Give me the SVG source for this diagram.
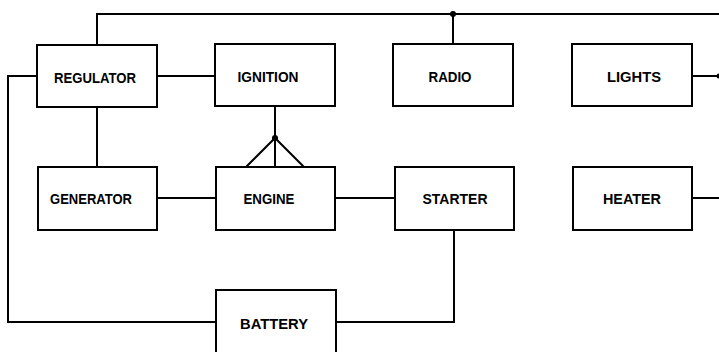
<svg xmlns="http://www.w3.org/2000/svg" width="719" height="352" viewBox="0 0 719 352">
<style>
.box{fill:#fff;stroke:#000;stroke-width:2}
.w{fill:none;stroke:#000;stroke-width:2;stroke-linejoin:miter}
text{font-family:"Liberation Sans",Arial,sans-serif;font-weight:bold;font-size:15px;fill:#000;text-anchor:middle}
</style>
<rect width="719" height="352" fill="#fff"/>
<g id="connectors">
<path class="w" d="M97,45 V14 H719"/>
<path class="w" d="M453,14 V44"/>
<circle cx="453" cy="14" r="3" fill="#000"/>
<path class="w" d="M157,76 H215"/>
<path class="w" d="M37,76 H8 V322 H216"/>
<path class="w" d="M336,322 H454 V230"/>
<path class="w" d="M97,107 V167"/>
<path class="w" d="M157,198 H216"/>
<path class="w" d="M335,198 H395"/>
<path class="w" d="M275,106 V167"/>
<path class="w" d="M246,167 L275,138 L304,167"/>
<circle cx="275" cy="138" r="3" fill="#000"/>
<path class="w" d="M692,76 H719"/>
<circle cx="719" cy="76" r="2.5" fill="#000"/>
<path class="w" d="M692,198 H719"/>
</g>
<g id="regulator"><rect class="box" x="37" y="45" width="120" height="62"/><text x="95" y="83" textLength="82" lengthAdjust="spacingAndGlyphs">REGULATOR</text></g>
<g id="ignition"><rect class="box" x="215" y="44" width="120" height="62"/><text x="268" y="82" textLength="61" lengthAdjust="spacingAndGlyphs">IGNITION</text></g>
<g id="radio"><rect class="box" x="393" y="44" width="120" height="62"/><text x="450" y="82" textLength="43" lengthAdjust="spacingAndGlyphs">RADIO</text></g>
<g id="lights"><rect class="box" x="572" y="44" width="120" height="62"/><text x="634" y="82" textLength="54" lengthAdjust="spacingAndGlyphs">LIGHTS</text></g>
<g id="generator"><rect class="box" x="38" y="167" width="119" height="63"/><text x="91" y="204" textLength="82" lengthAdjust="spacingAndGlyphs">GENERATOR</text></g>
<g id="engine"><rect class="box" x="216" y="167" width="119" height="63"/><text x="269" y="204" textLength="51" lengthAdjust="spacingAndGlyphs">ENGINE</text></g>
<g id="starter"><rect class="box" x="395" y="167" width="119" height="63"/><text x="455" y="204" textLength="65" lengthAdjust="spacingAndGlyphs">STARTER</text></g>
<g id="heater"><rect class="box" x="573" y="167" width="119" height="63"/><text x="632" y="204" textLength="58" lengthAdjust="spacingAndGlyphs">HEATER</text></g>
<g id="battery"><rect class="box" x="216" y="290" width="120" height="70"/><text x="274" y="329" textLength="68" lengthAdjust="spacingAndGlyphs">BATTERY</text></g>
</svg>
